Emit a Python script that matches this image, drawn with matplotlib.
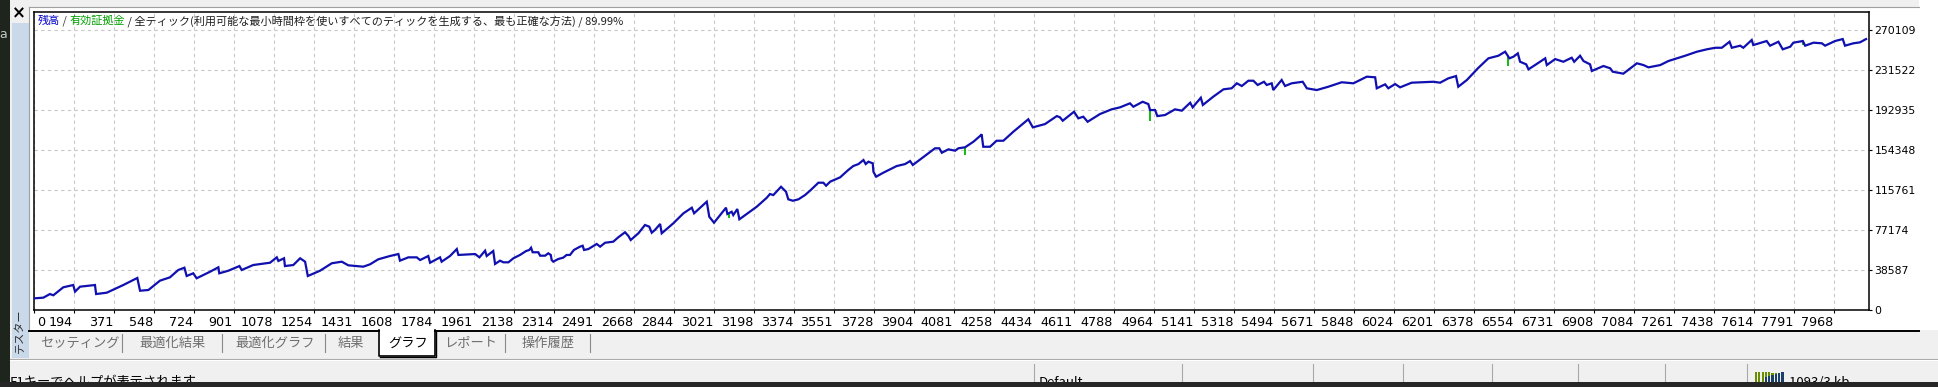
import matplotlib
matplotlib.use("Agg")
import matplotlib.pyplot as plt
import numpy as np
from matplotlib.patches import Rectangle
from matplotlib.lines import Line2D
from matplotlib.transforms import Affine2D, ScaledTranslation

# ---------------- data ----------------
x_tick_labels = ["0", "194", "371", "548", "724", "901", "1078", "1254", "1431", "1608",
                 "1784", "1961", "2138", "2314", "2491", "2668", "2844", "3021", "3198",
                 "3374", "3551", "3728", "3904", "4081", "4258", "4434", "4611", "4788",
                 "4964", "5141", "5318", "5494", "5671", "5848", "6024", "6201", "6378",
                 "6554", "6731", "6908", "7084", "7261", "7438", "7614", "7791", "7968"]
y_tick_labels = ["0", "38587", "77174", "115761", "154348", "192935", "231522", "270109"]

x_min, x_max = 17.7, 8122
y_min, y_max = 0, 287500

balance_x = [22, 59, 88, 103, 147, 191, 199, 221, 287, 292, 339, 412, 474, 486, 523, 574, 618,
             655, 682, 692, 721, 736, 795, 832, 836, 876, 925, 935, 986, 1060, 1090, 1097, 1122,
             1126, 1163, 1193, 1215, 1227, 1281, 1333, 1377, 1406, 1472, 1502, 1538, 1590, 1627,
             1634, 1671, 1708, 1723, 1759, 1767, 1811, 1818, 1855, 1885, 1892, 1966, 1985, 2010,
             2017, 2046, 2054, 2076, 2091, 2113, 2135, 2164, 2191, 2205, 2213, 2220, 2245, 2253,
             2275, 2289, 2300, 2304, 2311, 2333, 2355, 2370, 2385, 2402, 2429, 2441, 2447, 2466,
             2503, 2518, 2540, 2576, 2598, 2628, 2643, 2653, 2687, 2716, 2735, 2746, 2760, 2783,
             2790, 2841, 2886, 2923, 2933, 2989, 3000, 3021, 3048, 3074, 3080, 3099, 3106, 3124,
             3133, 3165, 3210, 3254, 3268, 3283, 3317, 3339, 3349, 3369, 3394, 3423, 3445, 3482,
             3504, 3516, 3534, 3578, 3614, 3636, 3659, 3681, 3691, 3703, 3722, 3725, 3737, 3769,
             3828, 3865, 3887, 3899, 3938, 3968, 3997, 4016, 4027, 4056, 4086, 4100, 4130, 4167,
             4196, 4203, 4210, 4240, 4269, 4299, 4343, 4409, 4429, 4483, 4535, 4549, 4561, 4611,
             4630, 4652, 4671, 4726, 4777, 4814, 4858, 4873, 4914, 4939, 4947, 4969, 4979, 5013,
             5057, 5087, 5124, 5135, 5171, 5180, 5226, 5271, 5307, 5330, 5352, 5381, 5403, 5422,
             5450, 5462, 5484, 5491, 5528, 5543, 5572, 5621, 5639, 5683, 5734, 5793, 5845, 5904,
             5941, 5948, 5985, 5999, 6029, 6051, 6102, 6198, 6228, 6264, 6298, 6308, 6346, 6397,
             6441, 6485, 6515, 6534, 6552, 6571, 6581, 6608, 6618, 6647, 6692, 6699, 6736, 6772,
             6809, 6820, 6846, 6861, 6890, 6898, 6949, 6979, 6990, 7037, 7097, 7126, 7148, 7200,
             7236, 7310, 7362, 7406, 7443, 7472, 7506, 7516, 7553, 7567, 7604, 7611, 7670, 7685,
             7722, 7741, 7774, 7788, 7830, 7840, 7877, 7914, 7928, 7972, 8006, 8016, 8053, 8082,
             8109]
balance_y = [11300, 11900, 15400, 14200, 21900, 24100, 17700, 22500, 24100, 15400, 16700, 24100,
             30900, 18600, 19300, 28300, 31500, 38600, 40800, 32800, 35400, 30600, 36900, 41200,
             35400, 37900, 42400, 38600, 43400, 45600, 50800, 47300, 49900, 42400, 43400, 49900,
             46600, 32800, 37900, 45100, 46600, 43100, 41800, 44100, 48900, 52100, 54000, 47600,
             50800, 50800, 48200, 52100, 45600, 50800, 46600, 52100, 58800, 53100, 54000, 50800,
             57200, 52100, 56900, 44400, 47600, 46000, 46000, 49900, 53100, 56900, 57900, 60100,
             55700, 55700, 52400, 52400, 54700, 53100, 48200, 46600, 49200, 50500, 53100, 53100,
             57900, 61100, 62000, 57900, 58800,
             63700, 61100, 64900, 65900, 70100, 75000, 71400, 67500, 74000, 82000, 80400, 74600,
             77200, 83000, 74000, 83600, 93300, 98700, 93300, 104500, 90000, 84200, 91600, 98700,
             92600, 94800, 91600, 97400, 87500, 92600, 99700, 108300, 111900, 110900, 118900,
             114100, 106800, 105400, 106800, 110900, 115100, 122800, 122800, 119900, 123800,
             128000, 135100, 138900, 140800, 144700, 140800, 143100, 141500, 133400, 128600,
             132500, 138900, 140800, 143700, 139900, 146300, 151200, 156000, 156000, 151700,
             155000, 153700, 156000, 157000, 162400, 167900, 169500, 157500, 157500, 163300,
             163300, 172000, 184000, 176200, 179400, 187100, 185900, 182600, 191300, 184900,
             186500, 181600, 189100, 193600, 195500, 199400, 196100, 200900, 198700, 192900,
             192900, 187100, 188100, 193600, 192300, 200000, 195500, 204800, 197800, 205800,
             212900, 213900, 218700, 216100, 221200, 221200, 217100, 220200, 217100, 218700,
             212200, 221900, 216100, 218700, 220200, 213900, 212200, 215400, 219700, 218700,
             225100, 224500, 213900, 217700, 213900, 218000, 214800, 219300, 220200, 219300,
             223500, 225700, 215400, 221900, 233700, 242800, 245300, 249200, 242800, 244400,
             247600, 239500, 237000, 232200, 236300, 242800, 236300, 242100, 239500, 243400,
             239500, 245300, 240200, 237000, 230600, 235400, 233200, 229900, 228000, 238000,
             236300, 234100, 236300, 240200, 245300, 249200, 251500, 253000, 253000, 258800,
             253000, 255000, 253000, 260500, 255600, 259500, 255000, 258800, 251500, 254000,
             257900, 259500, 255000, 257900, 257300, 255000, 259500, 261400, 255000, 257300,
             258200, 261400]

# equity dips (green) : position and lowest equity
equity_dip_x = [3087, 4130, 4947, 6528, 7830]
equity_dip_y = [88300, 149500, 182600, 235700, 255600]

title_parts = ["残高", " / ", "有効証拠金",
               " / 全ティック(利用可能な最小時間枠を使いすべてのティックを生成する、最も正確な方法) / 89.99%"]
tab_labels = ["セッティング", "最適化結果", "最適化グラフ", "結果", "グラフ", "レポート", "操作履歴"]
status_texts = ["F1キーでヘルプが表示されます", "Default", "1093/3 kb"]

# ---------------- figure ----------------
W, H = 1938, 387
fig = plt.figure(figsize=(W / 100, H / 100), dpi=100, facecolor="#f0f0f0")
pix = Affine2D().scale(1 / W, -1 / H).translate(0, 1) + fig.transFigure
CJK = ["Noto Sans CJK JP", "DejaVu Sans"]


def rect(x0, y0, x1, y1, color, z=0, ec="none", lw=0):
    fig.add_artist(Rectangle((x0, y0), x1 - x0, y1 - y0, transform=pix, facecolor=color,
                             edgecolor=ec, linewidth=lw, zorder=z))


def line(xs, ys, color, lw=1.0, z=1):
    fig.add_artist(Line2D(xs, ys, transform=pix, color=color, linewidth=lw, zorder=z))


# window chrome
rect(0, 0, 10, H, "#1d251d", z=0.5)
fig.text(3, 35, "a", transform=pix, fontsize=9, color="#c8c8c8", ha="center", va="center",
         zorder=1)
rect(12, 23, 29, 358, "#c9d9e9", z=0.5)
fig.text(19, 13, "×", transform=pix, fontsize=12, fontweight="bold", color="black",
         ha="center", va="center", zorder=1)
fig.text(20, 331, "テスター", transform=pix, rotation=90, fontsize=8, color="#303030",
         ha="center", va="center", family=CJK, zorder=1)

# white chart panel
rect(29, 7, 1919, 330, "white", z=0.3)
line([29, 29], [7, 330], "#a0a0a0", lw=0.8, z=0.6)
line([29, 1919], [7, 7], "#a0a0a0", lw=0.8, z=0.6)
rect(1919, 0, W, 330, "white", z=0.3)

# tab strip
tab_centers = [80, 173, 275, 351, 408, 471, 548]
line([29, 379], [330.5, 330.5], "black", lw=1.4, z=2)
line([435, 1919], [330.5, 330.5], "black", lw=1.4, z=2)
rect(379, 330, 435, 355, "white", z=1.5)
line([379.5, 379.5, 435.5, 435.5], [330, 355.5, 355.5, 330], "black", lw=1.2, z=2)
line([380, 436.5, 436.5], [356.5, 356.5, 331], "black", lw=1.0, z=2)
for sx in [122, 222, 325, 505, 590]:
    line([sx, sx], [334, 352], "#8a8a8a", lw=0.8, z=2)
for lbl, cx in zip(tab_labels, tab_centers):
    active = lbl == "グラフ"
    fig.text(cx, 343, lbl, transform=pix, fontsize=9.5, family=CJK,
             color="black" if active else "#6e6e6e", ha="center", va="center", zorder=3)

# status bar
line([10, W], [358.5, 358.5], "#a8a8a8", lw=0.8, z=2)
line([10, W], [359.8, 359.8], "white", lw=0.8, z=2)
for sx in [1034, 1182, 1313, 1403, 1492, 1578, 1665, 1747]:
    line([sx, sx], [364, 383], "#a8a8a8", lw=0.8, z=2)
fig.text(10, 382, status_texts[0], transform=pix, fontsize=9.5, family=CJK, color="black",
         ha="left", va="center", zorder=3)
fig.text(1039, 382, status_texts[1], transform=pix, fontsize=9.5, family=CJK, color="black",
         ha="left", va="center", zorder=3)
fig.text(1789, 382, status_texts[2], transform=pix, fontsize=9.5, family=CJK, color="black",
         ha="left", va="center", zorder=3)
for i in range(9):
    bx = 1755 + i * 3.3
    top = 372 if i < 5 else 373
    rect(bx, top, bx + 2.2, 383, "#6a8c00", z=2.5)
    if i >= 3:
        rect(bx, 377 - (i - 3), bx + 2.2, 383, "#1b3f6b", z=2.6)
rect(0, 381.5, W, H, "#262626", z=10)

# ---------------- chart ----------------
L, R, T, B = 34, 1869, 12, 310
ax = fig.add_axes([L / W, 1 - B / H, (R - L) / W, (B - T) / H])
ax.set_zorder(5)
ax.set_facecolor("white")
ax.set_xlim(x_min, x_max)
ax.set_ylim(y_min, y_max)

xticks = [x_min] + [float(v) for v in x_tick_labels[1:]]
ax.set_xticks(xticks)
ax.set_xticklabels(x_tick_labels, fontsize=9.2, family="DejaVu Sans")
ax.set_yticks([float(v) for v in y_tick_labels])
ax.set_yticklabels(y_tick_labels, fontsize=7.8, family="DejaVu Sans")
ax.yaxis.tick_right()
ax.tick_params(axis="x", length=2.5, width=0.8, pad=1.5, colors="black")
ax.tick_params(axis="y", length=2.5, width=0.8, pad=1.5, colors="black")

for i, lbl in enumerate(ax.get_xticklabels()):
    if i == 0:
        lbl.set_horizontalalignment("left")
        lbl.set_transform(lbl.get_transform() + ScaledTranslation(3 / 100, 0, fig.dpi_scale_trans))
    else:
        lbl.set_horizontalalignment("right")
        lbl.set_transform(lbl.get_transform() + ScaledTranslation(-1 / 100, 0, fig.dpi_scale_trans))

ax.grid(True, color="#c8c8c8", linestyle=(0, (3, 3)), linewidth=0.8)
for sp in ax.spines.values():
    sp.set_color("black")
    sp.set_linewidth(1.1)

bal_at_dip = np.interp(equity_dip_x, balance_x, balance_y)
ax.vlines(equity_dip_x, equity_dip_y, bal_at_dip, color="#00b400", linewidth=1.3, zorder=2)
ax.plot(balance_x, balance_y, color="#1010b0", linewidth=1.6, zorder=3,
        solid_joinstyle="miter")

# ---------------- title (multicolour) ----------------
renderer = fig.canvas.get_renderer()
colors = ["#0000c8", "#3a3a3a", "#00a000", "#202020"]
xpos = 38
for part, col in zip(title_parts, colors):
    t = fig.text(xpos, 21, part, transform=pix, fontsize=8, family=CJK, color=col,
                 ha="left", va="center", zorder=6)
    bb = t.get_window_extent(renderer)
    xpos += bb.width

fig.savefig("out.png", dpi=100, facecolor=fig.get_facecolor())
